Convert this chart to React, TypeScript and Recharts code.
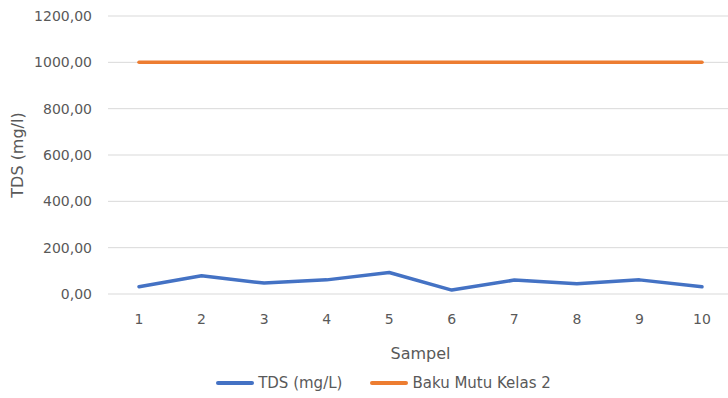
import React from 'react';
import { LineChart, Line, XAxis, YAxis, CartesianGrid, Legend } from 'recharts';

const categories = ['1', '2', '3', '4', '5', '6', '7', '8', '9', '10'];
const tdsValues = [31, 79, 47, 61, 93, 17, 60, 44, 61, 31];
const bakuMutuValues = [1000, 1000, 1000, 1000, 1000, 1000, 1000, 1000, 1000, 1000];
const yTicks = [0, 200, 400, 600, 800, 1000, 1200];

const data = categories.map((c, i) => ({ sampel: c, tds: tdsValues[i], baku: bakuMutuValues[i] }));

const FONT = '"DejaVu Sans", Verdana, sans-serif';
const TEXT = '#595959';

const fmt = (v: number) => v.toFixed(2).replace('.', ',');

const LegendContent = () => {
  const items = [
    { label: 'TDS (mg/L)', color: '#4472C4' },
    { label: 'Baku Mutu Kelas 2', color: '#ED7D31' },
  ];
  return (
    <div style={{ display: 'flex', justifyContent: 'center', alignItems: 'center', height: 30, fontFamily: FONT, fontSize: 15, color: TEXT }}>
      {items.map((it, i) => (
        <div key={it.label} style={{ display: 'flex', alignItems: 'center', marginLeft: i === 0 ? 0 : 28 }}>
          <div style={{ width: 38, height: 4, borderRadius: 2, background: it.color, marginRight: 4 }} />
          <span>{it.label}</span>
        </div>
      ))}
    </div>
  );
};

export default function App() {
  return (
    <div style={{ position: 'absolute', left: 0, top: 0, width: 728, height: 398, overflow: 'hidden', background: '#fff' }}>
      <LineChart width={767} height={398} data={data} margin={{ top: 16, right: 34, bottom: 0, left: 0 }}>
        <CartesianGrid vertical={false} stroke="#d9d9d9" strokeWidth={1} />
        <XAxis
          dataKey="sampel"
          axisLine={false}
          tickLine={false}
          tickSize={8}
          tickMargin={12}
          height={74}
          padding={{ left: 31, right: 31 }}
          tick={{ fill: TEXT, fontSize: 14, fontFamily: FONT }}
          label={{ value: 'Sampel', position: 'insideBottom', offset: 9, fill: TEXT, fontSize: 16, fontFamily: FONT }}
        />
        <YAxis
          domain={[0, 1200]}
          ticks={yTicks}
          axisLine={false}
          tickLine={false}
          tickSize={8}
          tickMargin={8}
          width={108}
          tickFormatter={fmt}
          tick={{ fill: TEXT, fontSize: 14, fontFamily: FONT }}
          label={{ value: 'TDS (mg/l)', angle: -90, position: 'insideLeft', offset: 17, fill: TEXT, fontSize: 16, fontFamily: FONT, style: { textAnchor: 'middle' } }}
        />
        <Legend verticalAlign="bottom" height={30} content={<LegendContent />} wrapperStyle={{ left: 0, width: 767, bottom: 0 }} />
        <Line dataKey="tds" name="TDS (mg/L)" stroke="#4472C4" strokeWidth={3.5} dot={false} strokeLinecap="round" strokeLinejoin="round" isAnimationActive={false} />
        <Line dataKey="baku" name="Baku Mutu Kelas 2" stroke="#ED7D31" strokeWidth={3.5} dot={false} strokeLinecap="round" strokeLinejoin="round" isAnimationActive={false} />
      </LineChart>
    </div>
  );
}
